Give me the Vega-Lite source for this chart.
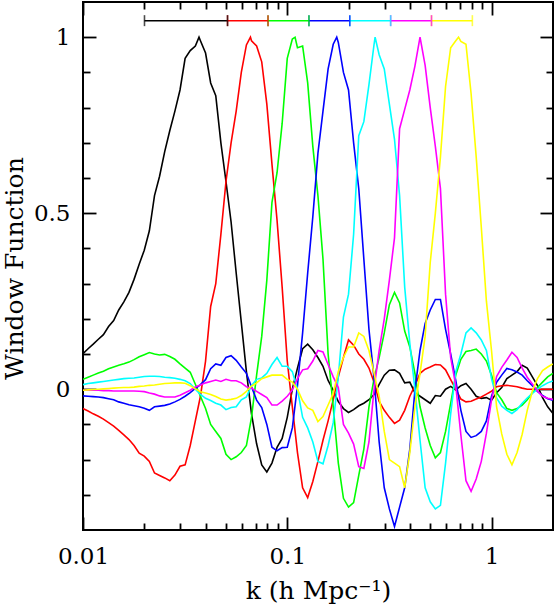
{
"$schema":"https://vega.github.io/schema/vega-lite/v6.json",
"width":470,"height":528,
"autosize":{"type":"none"},
"padding":{"left":83,"top":2,"right":1,"bottom":75},
"background":"white",
"config":{"view":{"stroke":"black","strokeWidth":2},
"axis":{"domain":false,"grid":false,"tickColor":"black","tickWidth":1.8,"labelFont":"DejaVu Serif","labelFontSize":23,"labelColor":"black","titleFont":"DejaVu Serif","titleFontSize":25,"titleFontWeight":"normal","titleColor":"black","labelFlush":false,"labelOverlap":false}},
"datasets":{
"bands":[
{"s":"b1","lo":0.02,"hi":0.051},
{"s":"b2","lo":0.051,"hi":0.0805},
{"s":"b3","lo":0.0805,"hi":0.1277},
{"s":"b4","lo":0.1277,"hi":0.2024},
{"s":"b5","lo":0.2024,"hi":0.3208},
{"s":"b6","lo":0.3208,"hi":0.5084},
{"s":"b7","lo":0.5084,"hi":0.8058}],
"curves":[
{"s":"b1","k":0.01,"w":0.101},{"s":"b1","k":0.01059,"w":0.115},{"s":"b1","k":0.01122,"w":0.128},{"s":"b1","k":0.01189,"w":0.142},{"s":"b1","k":0.01259,"w":0.155},{"s":"b1","k":0.01334,"w":0.178},{"s":"b1","k":0.01413,"w":0.195},{"s":"b1","k":0.01496,"w":0.225},{"s":"b1","k":0.01585,"w":0.248},{"s":"b1","k":0.01679,"w":0.275},
{"s":"b1","k":0.01778,"w":0.312},{"s":"b1","k":0.01884,"w":0.355},{"s":"b1","k":0.01995,"w":0.395},{"s":"b1","k":0.02113,"w":0.45},{"s":"b1","k":0.02239,"w":0.55},{"s":"b1","k":0.02371,"w":0.605},{"s":"b1","k":0.02512,"w":0.675},{"s":"b1","k":0.02661,"w":0.735},{"s":"b1","k":0.02818,"w":0.79},{"s":"b1","k":0.02985,"w":0.85},
{"s":"b1","k":0.03162,"w":0.94},{"s":"b1","k":0.0335,"w":0.962},{"s":"b1","k":0.03548,"w":0.975},{"s":"b1","k":0.03698,"w":1.0},{"s":"b1","k":0.03758,"w":0.99},{"s":"b1","k":0.03981,"w":0.955},{"s":"b1","k":0.04217,"w":0.87},{"s":"b1","k":0.04467,"w":0.834},{"s":"b1","k":0.04732,"w":0.7},{"s":"b1","k":0.05012,"w":0.59},{"s":"b1","k":0.05309,"w":0.475},
{"s":"b1","k":0.05623,"w":0.33},{"s":"b1","k":0.05957,"w":0.19},{"s":"b1","k":0.0631,"w":0.05},{"s":"b1","k":0.06683,"w":-0.07},{"s":"b1","k":0.07079,"w":-0.155},{"s":"b1","k":0.07499,"w":-0.215},{"s":"b1","k":0.07943,"w":-0.235},{"s":"b1","k":0.08414,"w":-0.21},{"s":"b1","k":0.08913,"w":-0.165},{"s":"b1","k":0.09441,"w":-0.14},
{"s":"b1","k":0.1,"w":-0.08},{"s":"b1","k":0.1059,"w":0.0},{"s":"b1","k":0.1122,"w":0.06},{"s":"b1","k":0.1189,"w":0.115},{"s":"b1","k":0.1259,"w":0.128},{"s":"b1","k":0.1334,"w":0.112},{"s":"b1","k":0.1413,"w":0.09},{"s":"b1","k":0.1496,"w":0.065},{"s":"b1","k":0.1585,"w":0.025},{"s":"b1","k":0.1679,"w":-0.003},
{"s":"b1","k":0.1778,"w":-0.035},{"s":"b1","k":0.1884,"w":-0.055},{"s":"b1","k":0.1995,"w":-0.066},{"s":"b1","k":0.2113,"w":-0.058},{"s":"b1","k":0.2239,"w":-0.047},{"s":"b1","k":0.2371,"w":-0.04},{"s":"b1","k":0.2512,"w":-0.03},{"s":"b1","k":0.2661,"w":-0.015},{"s":"b1","k":0.2818,"w":0.014},{"s":"b1","k":0.2985,"w":0.04},
{"s":"b1","k":0.3162,"w":0.054},{"s":"b1","k":0.335,"w":0.055},{"s":"b1","k":0.3548,"w":0.045},{"s":"b1","k":0.3758,"w":0.018},{"s":"b1","k":0.3981,"w":0.02},{"s":"b1","k":0.4217,"w":-0.01},{"s":"b1","k":0.4467,"w":-0.02},{"s":"b1","k":0.4732,"w":-0.03},{"s":"b1","k":0.5012,"w":-0.04},{"s":"b1","k":0.5309,"w":-0.018},
{"s":"b1","k":0.5623,"w":-0.02},{"s":"b1","k":0.5957,"w":0.0},{"s":"b1","k":0.631,"w":0.008},{"s":"b1","k":0.6683,"w":-0.002},{"s":"b1","k":0.7079,"w":0.01},{"s":"b1","k":0.7499,"w":0.016},{"s":"b1","k":0.7943,"w":0.0},{"s":"b1","k":0.8414,"w":-0.02},{"s":"b1","k":0.8913,"w":-0.026},{"s":"b1","k":0.9441,"w":-0.024},
{"s":"b1","k":1,"w":-0.031},{"s":"b1","k":1.059,"w":-0.01},{"s":"b1","k":1.122,"w":0.005},{"s":"b1","k":1.189,"w":0.03},{"s":"b1","k":1.259,"w":0.04},{"s":"b1","k":1.334,"w":0.05},{"s":"b1","k":1.413,"w":0.068},{"s":"b1","k":1.496,"w":0.06},{"s":"b1","k":1.585,"w":0.035},{"s":"b1","k":1.679,"w":0.01},
{"s":"b1","k":1.778,"w":-0.024},{"s":"b1","k":1.884,"w":-0.05},{"s":"b1","k":1.995,"w":-0.068},

{"s":"b2","k":0.01,"w":-0.055},{"s":"b2","k":0.01059,"w":-0.062},{"s":"b2","k":0.01122,"w":-0.07},{"s":"b2","k":0.01189,"w":-0.077},{"s":"b2","k":0.01259,"w":-0.085},{"s":"b2","k":0.01334,"w":-0.095},{"s":"b2","k":0.01413,"w":-0.105},{"s":"b2","k":0.01496,"w":-0.117},{"s":"b2","k":0.01585,"w":-0.13},{"s":"b2","k":0.01679,"w":-0.143},
{"s":"b2","k":0.01778,"w":-0.16},{"s":"b2","k":0.01884,"w":-0.182},{"s":"b2","k":0.01995,"w":-0.19},{"s":"b2","k":0.02113,"w":-0.205},{"s":"b2","k":0.02239,"w":-0.238},{"s":"b2","k":0.02371,"w":-0.245},{"s":"b2","k":0.02512,"w":-0.252},{"s":"b2","k":0.02661,"w":-0.26},{"s":"b2","k":0.02818,"w":-0.244},{"s":"b2","k":0.02985,"w":-0.219},
{"s":"b2","k":0.03162,"w":-0.215},{"s":"b2","k":0.0335,"w":-0.16},{"s":"b2","k":0.03548,"w":-0.09},{"s":"b2","k":0.03758,"w":-0.02},{"s":"b2","k":0.03981,"w":0.08},{"s":"b2","k":0.04217,"w":0.235},{"s":"b2","k":0.04467,"w":0.3},{"s":"b2","k":0.04732,"w":0.44},{"s":"b2","k":0.05012,"w":0.59},{"s":"b2","k":0.05309,"w":0.7},
{"s":"b2","k":0.05623,"w":0.79},{"s":"b2","k":0.05957,"w":0.9},{"s":"b2","k":0.0631,"w":0.978},{"s":"b2","k":0.06604,"w":1.0},{"s":"b2","k":0.06683,"w":0.99},{"s":"b2","k":0.07079,"w":0.975},{"s":"b2","k":0.07499,"w":0.93},{"s":"b2","k":0.07943,"w":0.81},{"s":"b2","k":0.08414,"w":0.64},{"s":"b2","k":0.08913,"w":0.48},{"s":"b2","k":0.09441,"w":0.29},
{"s":"b2","k":0.1,"w":0.08},{"s":"b2","k":0.1059,"w":-0.05},{"s":"b2","k":0.1122,"w":-0.18},{"s":"b2","k":0.1189,"w":-0.28},{"s":"b2","k":0.1259,"w":-0.308},{"s":"b2","k":0.1334,"w":-0.262},{"s":"b2","k":0.1413,"w":-0.205},{"s":"b2","k":0.1496,"w":-0.145},{"s":"b2","k":0.1585,"w":-0.09},{"s":"b2","k":0.1679,"w":-0.03},
{"s":"b2","k":0.1778,"w":0.035},{"s":"b2","k":0.1884,"w":0.09},{"s":"b2","k":0.1995,"w":0.14},{"s":"b2","k":0.2113,"w":0.125},{"s":"b2","k":0.2239,"w":0.1},{"s":"b2","k":0.2371,"w":0.085},{"s":"b2","k":0.2512,"w":0.06},{"s":"b2","k":0.2661,"w":0.02},{"s":"b2","k":0.2818,"w":-0.035},{"s":"b2","k":0.2985,"w":-0.06},
{"s":"b2","k":0.3162,"w":-0.08},{"s":"b2","k":0.335,"w":-0.097},{"s":"b2","k":0.3548,"w":-0.088},{"s":"b2","k":0.3758,"w":-0.06},{"s":"b2","k":0.3981,"w":-0.02},{"s":"b2","k":0.4217,"w":0.01},{"s":"b2","k":0.4467,"w":0.045},{"s":"b2","k":0.4732,"w":0.057},{"s":"b2","k":0.5012,"w":0.063},{"s":"b2","k":0.5309,"w":0.07},
{"s":"b2","k":0.5623,"w":0.069},{"s":"b2","k":0.5957,"w":0.055},{"s":"b2","k":0.631,"w":0.027},{"s":"b2","k":0.6683,"w":0.0},{"s":"b2","k":0.7079,"w":-0.028},{"s":"b2","k":0.7499,"w":-0.036},{"s":"b2","k":0.7943,"w":-0.034},{"s":"b2","k":0.8414,"w":-0.028},{"s":"b2","k":0.8913,"w":-0.022},{"s":"b2","k":0.9441,"w":-0.014},
{"s":"b2","k":1,"w":-0.006},{"s":"b2","k":1.059,"w":0.007},{"s":"b2","k":1.122,"w":0.01},{"s":"b2","k":1.189,"w":0.011},{"s":"b2","k":1.259,"w":0.009},{"s":"b2","k":1.334,"w":0.007},{"s":"b2","k":1.413,"w":0.003},{"s":"b2","k":1.496,"w":0.0},{"s":"b2","k":1.585,"w":0.0},{"s":"b2","k":1.679,"w":0.0},
{"s":"b2","k":1.778,"w":0.0},{"s":"b2","k":1.884,"w":0.0},{"s":"b2","k":1.995,"w":0.0},

{"s":"b3","k":0.01,"w":0.028},{"s":"b3","k":0.01059,"w":0.034},{"s":"b3","k":0.01122,"w":0.04},{"s":"b3","k":0.01189,"w":0.046},{"s":"b3","k":0.01259,"w":0.051},{"s":"b3","k":0.01334,"w":0.058},{"s":"b3","k":0.01413,"w":0.063},{"s":"b3","k":0.01496,"w":0.068},{"s":"b3","k":0.01585,"w":0.072},{"s":"b3","k":0.01679,"w":0.077},
{"s":"b3","k":0.01778,"w":0.084},{"s":"b3","k":0.01884,"w":0.092},{"s":"b3","k":0.01995,"w":0.098},{"s":"b3","k":0.02113,"w":0.104},{"s":"b3","k":0.02239,"w":0.1},{"s":"b3","k":0.02371,"w":0.097},{"s":"b3","k":0.02512,"w":0.099},{"s":"b3","k":0.02661,"w":0.093},{"s":"b3","k":0.02818,"w":0.085},{"s":"b3","k":0.02985,"w":0.072},
{"s":"b3","k":0.03162,"w":0.06},{"s":"b3","k":0.0335,"w":0.048},{"s":"b3","k":0.03548,"w":0.014},{"s":"b3","k":0.03758,"w":-0.02},{"s":"b3","k":0.03981,"w":-0.055},{"s":"b3","k":0.04217,"w":-0.1},{"s":"b3","k":0.04467,"w":-0.12},{"s":"b3","k":0.04732,"w":-0.14},{"s":"b3","k":0.05012,"w":-0.185},{"s":"b3","k":0.05309,"w":-0.2},
{"s":"b3","k":0.05623,"w":-0.192},{"s":"b3","k":0.05957,"w":-0.18},{"s":"b3","k":0.0631,"w":-0.16},{"s":"b3","k":0.06683,"w":-0.08},{"s":"b3","k":0.07079,"w":0.04},{"s":"b3","k":0.07499,"w":0.15},{"s":"b3","k":0.07943,"w":0.31},{"s":"b3","k":0.08414,"w":0.53},{"s":"b3","k":0.08913,"w":0.615},{"s":"b3","k":0.09441,"w":0.755},
{"s":"b3","k":0.1,"w":0.94},{"s":"b3","k":0.1059,"w":0.995},{"s":"b3","k":0.1092,"w":1.0},{"s":"b3","k":0.1122,"w":0.97},{"s":"b3","k":0.1189,"w":0.975},{"s":"b3","k":0.1259,"w":0.87},{"s":"b3","k":0.1334,"w":0.69},{"s":"b3","k":0.1413,"w":0.55},{"s":"b3","k":0.1496,"w":0.37},{"s":"b3","k":0.1585,"w":0.1},{"s":"b3","k":0.1679,"w":-0.05},
{"s":"b3","k":0.1778,"w":-0.21},{"s":"b3","k":0.1884,"w":-0.31},{"s":"b3","k":0.1995,"w":-0.335},{"s":"b3","k":0.2113,"w":-0.322},{"s":"b3","k":0.2239,"w":-0.245},{"s":"b3","k":0.2371,"w":-0.17},{"s":"b3","k":0.2512,"w":-0.05},{"s":"b3","k":0.2661,"w":0.03},{"s":"b3","k":0.2818,"w":0.09},{"s":"b3","k":0.2985,"w":0.16},
{"s":"b3","k":0.3162,"w":0.24},{"s":"b3","k":0.335,"w":0.275},{"s":"b3","k":0.3548,"w":0.245},{"s":"b3","k":0.3758,"w":0.165},{"s":"b3","k":0.3981,"w":0.12},{"s":"b3","k":0.4217,"w":0.045},{"s":"b3","k":0.4467,"w":-0.05},{"s":"b3","k":0.4732,"w":-0.11},{"s":"b3","k":0.5012,"w":-0.16},{"s":"b3","k":0.5309,"w":-0.195},
{"s":"b3","k":0.5623,"w":-0.18},{"s":"b3","k":0.5957,"w":-0.12},{"s":"b3","k":0.631,"w":-0.04},{"s":"b3","k":0.6683,"w":0.04},{"s":"b3","k":0.7079,"w":0.085},{"s":"b3","k":0.7499,"w":0.107},{"s":"b3","k":0.7943,"w":0.11},{"s":"b3","k":0.8414,"w":0.114},{"s":"b3","k":0.8913,"w":0.1},{"s":"b3","k":0.9441,"w":0.08},
{"s":"b3","k":1,"w":0.04},{"s":"b3","k":1.059,"w":-0.01},{"s":"b3","k":1.122,"w":-0.03},{"s":"b3","k":1.189,"w":-0.055},{"s":"b3","k":1.259,"w":-0.06},{"s":"b3","k":1.334,"w":-0.055},{"s":"b3","k":1.413,"w":-0.045},{"s":"b3","k":1.496,"w":-0.03},{"s":"b3","k":1.585,"w":-0.01},{"s":"b3","k":1.679,"w":0.005},
{"s":"b3","k":1.778,"w":0.02},{"s":"b3","k":1.884,"w":0.035},{"s":"b3","k":1.995,"w":0.045},

{"s":"b4","k":0.01,"w":-0.019},{"s":"b4","k":0.01059,"w":-0.02},{"s":"b4","k":0.01122,"w":-0.021},{"s":"b4","k":0.01189,"w":-0.022},{"s":"b4","k":0.01259,"w":-0.024},{"s":"b4","k":0.01334,"w":-0.027},{"s":"b4","k":0.01413,"w":-0.03},{"s":"b4","k":0.01496,"w":-0.036},{"s":"b4","k":0.01585,"w":-0.04},{"s":"b4","k":0.01679,"w":-0.044},
{"s":"b4","k":0.01778,"w":-0.047},{"s":"b4","k":0.01884,"w":-0.05},{"s":"b4","k":0.01995,"w":-0.054},{"s":"b4","k":0.02113,"w":-0.06},{"s":"b4","k":0.02239,"w":-0.05},{"s":"b4","k":0.02371,"w":-0.048},{"s":"b4","k":0.02512,"w":-0.046},{"s":"b4","k":0.02661,"w":-0.042},{"s":"b4","k":0.02818,"w":-0.036},{"s":"b4","k":0.02985,"w":-0.029},
{"s":"b4","k":0.03162,"w":-0.02},{"s":"b4","k":0.0335,"w":-0.01},{"s":"b4","k":0.03548,"w":0.002},{"s":"b4","k":0.03758,"w":0.013},{"s":"b4","k":0.03981,"w":0.027},{"s":"b4","k":0.04217,"w":0.058},{"s":"b4","k":0.04467,"w":0.072},{"s":"b4","k":0.04732,"w":0.068},{"s":"b4","k":0.05012,"w":0.09},{"s":"b4","k":0.05309,"w":0.095},
{"s":"b4","k":0.05623,"w":0.082},{"s":"b4","k":0.05957,"w":0.063},{"s":"b4","k":0.0631,"w":0.045},{"s":"b4","k":0.06683,"w":0.007},{"s":"b4","k":0.07079,"w":-0.031},{"s":"b4","k":0.07499,"w":-0.052},{"s":"b4","k":0.07943,"w":-0.1},{"s":"b4","k":0.08414,"w":-0.165},{"s":"b4","k":0.08913,"w":-0.175},{"s":"b4","k":0.09441,"w":-0.166},
{"s":"b4","k":0.1,"w":-0.165},{"s":"b4","k":0.1059,"w":-0.11},{"s":"b4","k":0.1122,"w":0.01},{"s":"b4","k":0.1189,"w":0.16},{"s":"b4","k":0.1259,"w":0.33},{"s":"b4","k":0.1334,"w":0.49},{"s":"b4","k":0.1413,"w":0.67},{"s":"b4","k":0.1496,"w":0.79},{"s":"b4","k":0.1585,"w":0.91},{"s":"b4","k":0.1679,"w":0.98},
{"s":"b4","k":0.1747,"w":1.0},{"s":"b4","k":0.1778,"w":0.985},{"s":"b4","k":0.1884,"w":0.9},{"s":"b4","k":0.1995,"w":0.85},{"s":"b4","k":0.2113,"w":0.7},{"s":"b4","k":0.2239,"w":0.57},{"s":"b4","k":0.2371,"w":0.37},{"s":"b4","k":0.2512,"w":0.17},{"s":"b4","k":0.2661,"w":0.03},{"s":"b4","k":0.2818,"w":-0.15},{"s":"b4","k":0.2985,"w":-0.28},
{"s":"b4","k":0.3162,"w":-0.34},{"s":"b4","k":0.335,"w":-0.39},{"s":"b4","k":0.3548,"w":-0.335},{"s":"b4","k":0.3758,"w":-0.28},{"s":"b4","k":0.3981,"w":-0.17},{"s":"b4","k":0.4217,"w":-0.003},{"s":"b4","k":0.4467,"w":0.11},{"s":"b4","k":0.4732,"w":0.187},{"s":"b4","k":0.5012,"w":0.225},{"s":"b4","k":0.5309,"w":0.255},
{"s":"b4","k":0.5623,"w":0.255},{"s":"b4","k":0.5957,"w":0.17},{"s":"b4","k":0.631,"w":0.1},{"s":"b4","k":0.6683,"w":0.025},{"s":"b4","k":0.7079,"w":-0.06},{"s":"b4","k":0.7499,"w":-0.12},{"s":"b4","k":0.7943,"w":-0.137},{"s":"b4","k":0.8414,"w":-0.132},{"s":"b4","k":0.8913,"w":-0.12},{"s":"b4","k":0.9441,"w":-0.09},
{"s":"b4","k":1,"w":-0.02},{"s":"b4","k":1.059,"w":0.02},{"s":"b4","k":1.122,"w":0.04},{"s":"b4","k":1.189,"w":0.059},{"s":"b4","k":1.259,"w":0.055},{"s":"b4","k":1.334,"w":0.049},{"s":"b4","k":1.413,"w":0.04},{"s":"b4","k":1.496,"w":0.024},{"s":"b4","k":1.585,"w":0.01},{"s":"b4","k":1.679,"w":-0.006},
{"s":"b4","k":1.778,"w":-0.018},{"s":"b4","k":1.884,"w":-0.027},{"s":"b4","k":1.995,"w":-0.031},

{"s":"b5","k":0.01,"w":0.013},{"s":"b5","k":0.01059,"w":0.016},{"s":"b5","k":0.01122,"w":0.018},{"s":"b5","k":0.01189,"w":0.02},{"s":"b5","k":0.01259,"w":0.022},{"s":"b5","k":0.01334,"w":0.024},{"s":"b5","k":0.01413,"w":0.026},{"s":"b5","k":0.01496,"w":0.028},{"s":"b5","k":0.01585,"w":0.03},{"s":"b5","k":0.01679,"w":0.031},
{"s":"b5","k":0.01778,"w":0.032},{"s":"b5","k":0.01884,"w":0.034},{"s":"b5","k":0.01995,"w":0.036},{"s":"b5","k":0.02113,"w":0.037},{"s":"b5","k":0.02239,"w":0.037},{"s":"b5","k":0.02371,"w":0.036},{"s":"b5","k":0.02512,"w":0.034},{"s":"b5","k":0.02661,"w":0.033},{"s":"b5","k":0.02818,"w":0.031},{"s":"b5","k":0.02985,"w":0.028},
{"s":"b5","k":0.03162,"w":0.024},{"s":"b5","k":0.0335,"w":0.016},{"s":"b5","k":0.03548,"w":0.0},{"s":"b5","k":0.03758,"w":-0.015},{"s":"b5","k":0.03981,"w":-0.026},{"s":"b5","k":0.04217,"w":-0.032},{"s":"b5","k":0.04467,"w":-0.04},{"s":"b5","k":0.04732,"w":-0.045},{"s":"b5","k":0.05012,"w":-0.058},{"s":"b5","k":0.05309,"w":-0.052},
{"s":"b5","k":0.05623,"w":-0.05},{"s":"b5","k":0.05957,"w":-0.03},{"s":"b5","k":0.0631,"w":-0.022},{"s":"b5","k":0.06683,"w":0.01},{"s":"b5","k":0.07079,"w":0.028},{"s":"b5","k":0.07499,"w":0.032},{"s":"b5","k":0.07943,"w":0.045},{"s":"b5","k":0.08414,"w":0.07},{"s":"b5","k":0.08913,"w":0.09},{"s":"b5","k":0.09441,"w":0.065},
{"s":"b5","k":0.1,"w":0.065},{"s":"b5","k":0.1059,"w":0.05},{"s":"b5","k":0.1122,"w":0.0},{"s":"b5","k":0.1189,"w":-0.08},{"s":"b5","k":0.1259,"w":-0.11},{"s":"b5","k":0.1334,"w":-0.15},{"s":"b5","k":0.1413,"w":-0.205},{"s":"b5","k":0.1496,"w":-0.212},{"s":"b5","k":0.1585,"w":-0.16},{"s":"b5","k":0.1679,"w":-0.095},
{"s":"b5","k":0.1778,"w":0.035},{"s":"b5","k":0.1884,"w":0.205},{"s":"b5","k":0.1995,"w":0.27},{"s":"b5","k":0.2113,"w":0.44},{"s":"b5","k":0.2239,"w":0.72},{"s":"b5","k":0.2371,"w":0.76},{"s":"b5","k":0.2512,"w":0.865},{"s":"b5","k":0.2661,"w":0.98},{"s":"b5","k":0.2692,"w":1.0},{"s":"b5","k":0.2818,"w":0.95},{"s":"b5","k":0.2985,"w":0.91},
{"s":"b5","k":0.3162,"w":0.81},{"s":"b5","k":0.335,"w":0.71},{"s":"b5","k":0.3548,"w":0.55},{"s":"b5","k":0.3758,"w":0.29},{"s":"b5","k":0.3981,"w":0.13},{"s":"b5","k":0.4217,"w":0.0},{"s":"b5","k":0.4467,"w":-0.145},{"s":"b5","k":0.4732,"w":-0.28},{"s":"b5","k":0.5012,"w":-0.32},{"s":"b5","k":0.5309,"w":-0.34},
{"s":"b5","k":0.5623,"w":-0.33},{"s":"b5","k":0.5957,"w":-0.21},{"s":"b5","k":0.631,"w":-0.07},{"s":"b5","k":0.6683,"w":0.05},{"s":"b5","k":0.7079,"w":0.1},{"s":"b5","k":0.7499,"w":0.16},{"s":"b5","k":0.7943,"w":0.174},{"s":"b5","k":0.8414,"w":0.16},{"s":"b5","k":0.8913,"w":0.14},{"s":"b5","k":0.9441,"w":0.11},
{"s":"b5","k":1,"w":0.03},{"s":"b5","k":1.059,"w":-0.025},{"s":"b5","k":1.122,"w":-0.048},{"s":"b5","k":1.189,"w":-0.06},{"s":"b5","k":1.259,"w":-0.069},{"s":"b5","k":1.334,"w":-0.058},{"s":"b5","k":1.413,"w":-0.04},{"s":"b5","k":1.496,"w":-0.025},{"s":"b5","k":1.585,"w":-0.012},{"s":"b5","k":1.679,"w":0.0},
{"s":"b5","k":1.778,"w":0.01},{"s":"b5","k":1.884,"w":0.018},{"s":"b5","k":1.995,"w":0.023},

{"s":"b6","k":0.01,"w":-0.003},{"s":"b6","k":0.01059,"w":-0.003},{"s":"b6","k":0.01122,"w":-0.003},{"s":"b6","k":0.01189,"w":-0.003},{"s":"b6","k":0.01259,"w":-0.004},{"s":"b6","k":0.01334,"w":-0.004},{"s":"b6","k":0.01413,"w":-0.005},{"s":"b6","k":0.01496,"w":-0.005},{"s":"b6","k":0.01585,"w":-0.005},{"s":"b6","k":0.01679,"w":-0.005},
{"s":"b6","k":0.01778,"w":-0.005},{"s":"b6","k":0.01884,"w":-0.006},{"s":"b6","k":0.01995,"w":-0.007},{"s":"b6","k":0.02113,"w":-0.011},{"s":"b6","k":0.02239,"w":-0.014},{"s":"b6","k":0.02371,"w":-0.019},{"s":"b6","k":0.02512,"w":-0.022},{"s":"b6","k":0.02661,"w":-0.022},{"s":"b6","k":0.02818,"w":-0.022},{"s":"b6","k":0.02985,"w":-0.017},
{"s":"b6","k":0.03162,"w":-0.01},{"s":"b6","k":0.0335,"w":-0.003},{"s":"b6","k":0.03548,"w":0.006},{"s":"b6","k":0.03758,"w":0.012},{"s":"b6","k":0.03981,"w":0.018},{"s":"b6","k":0.04217,"w":0.022},{"s":"b6","k":0.04467,"w":0.026},{"s":"b6","k":0.04732,"w":0.022},{"s":"b6","k":0.05012,"w":0.028},{"s":"b6","k":0.05309,"w":0.024},
{"s":"b6","k":0.05623,"w":0.024},{"s":"b6","k":0.05957,"w":0.018},{"s":"b6","k":0.0631,"w":0.007},{"s":"b6","k":0.06683,"w":0.003},{"s":"b6","k":0.07079,"w":-0.006},{"s":"b6","k":0.07499,"w":-0.015},{"s":"b6","k":0.07943,"w":-0.024},{"s":"b6","k":0.08414,"w":-0.045},{"s":"b6","k":0.08913,"w":-0.045},{"s":"b6","k":0.09441,"w":-0.034},
{"s":"b6","k":0.1,"w":-0.02},{"s":"b6","k":0.1059,"w":-0.002},{"s":"b6","k":0.1122,"w":0.03},{"s":"b6","k":0.1189,"w":0.055},{"s":"b6","k":0.1259,"w":0.058},{"s":"b6","k":0.1334,"w":0.08},{"s":"b6","k":0.1413,"w":0.11},{"s":"b6","k":0.1496,"w":0.106},{"s":"b6","k":0.1585,"w":0.07},{"s":"b6","k":0.1679,"w":0.035},
{"s":"b6","k":0.1778,"w":0.005},{"s":"b6","k":0.1884,"w":-0.1},{"s":"b6","k":0.1995,"w":-0.125},{"s":"b6","k":0.2113,"w":-0.156},{"s":"b6","k":0.2239,"w":-0.22},{"s":"b6","k":0.2371,"w":-0.225},{"s":"b6","k":0.2512,"w":-0.15},{"s":"b6","k":0.2661,"w":0.0},{"s":"b6","k":0.2818,"w":0.11},{"s":"b6","k":0.2985,"w":0.2},
{"s":"b6","k":0.3162,"w":0.31},{"s":"b6","k":0.335,"w":0.43},{"s":"b6","k":0.3548,"w":0.74},{"s":"b6","k":0.3758,"w":0.795},{"s":"b6","k":0.3981,"w":0.85},{"s":"b6","k":0.4217,"w":0.918},{"s":"b6","k":0.4467,"w":1.0},{"s":"b6","k":0.4732,"w":0.92},{"s":"b6","k":0.5012,"w":0.8},{"s":"b6","k":0.5309,"w":0.69},
{"s":"b6","k":0.5623,"w":0.57},{"s":"b6","k":0.5957,"w":0.27},{"s":"b6","k":0.631,"w":0.09},{"s":"b6","k":0.6683,"w":0.01},{"s":"b6","k":0.7079,"w":-0.13},{"s":"b6","k":0.7499,"w":-0.26},{"s":"b6","k":0.7943,"w":-0.29},{"s":"b6","k":0.8414,"w":-0.255},{"s":"b6","k":0.8913,"w":-0.205},{"s":"b6","k":0.9441,"w":-0.125},
{"s":"b6","k":1,"w":-0.031},{"s":"b6","k":1.059,"w":0.036},{"s":"b6","k":1.122,"w":0.062},{"s":"b6","k":1.189,"w":0.083},{"s":"b6","k":1.259,"w":0.105},{"s":"b6","k":1.334,"w":0.09},{"s":"b6","k":1.413,"w":0.06},{"s":"b6","k":1.496,"w":0.034},{"s":"b6","k":1.585,"w":0.015},{"s":"b6","k":1.679,"w":-0.005},
{"s":"b6","k":1.778,"w":-0.02},{"s":"b6","k":1.884,"w":-0.026},{"s":"b6","k":1.995,"w":-0.029},

{"s":"b7","k":0.01,"w":-0.003},{"s":"b7","k":0.01059,"w":-0.002},{"s":"b7","k":0.01122,"w":-0.001},{"s":"b7","k":0.01189,"w":0.0},{"s":"b7","k":0.01259,"w":0.001},{"s":"b7","k":0.01334,"w":0.002},{"s":"b7","k":0.01413,"w":0.003},{"s":"b7","k":0.01496,"w":0.004},{"s":"b7","k":0.01585,"w":0.005},{"s":"b7","k":0.01679,"w":0.005},
{"s":"b7","k":0.01778,"w":0.006},{"s":"b7","k":0.01884,"w":0.008},{"s":"b7","k":0.01995,"w":0.009},{"s":"b7","k":0.02113,"w":0.011},{"s":"b7","k":0.02239,"w":0.012},{"s":"b7","k":0.02371,"w":0.014},{"s":"b7","k":0.02512,"w":0.016},{"s":"b7","k":0.02661,"w":0.017},{"s":"b7","k":0.02818,"w":0.018},{"s":"b7","k":0.02985,"w":0.018},
{"s":"b7","k":0.03162,"w":0.017},{"s":"b7","k":0.0335,"w":0.01},{"s":"b7","k":0.03548,"w":0.001},{"s":"b7","k":0.03758,"w":-0.007},{"s":"b7","k":0.03981,"w":-0.011},{"s":"b7","k":0.04217,"w":-0.015},{"s":"b7","k":0.04467,"w":-0.021},{"s":"b7","k":0.04732,"w":-0.028},{"s":"b7","k":0.05012,"w":-0.031},{"s":"b7","k":0.05309,"w":-0.029},
{"s":"b7","k":0.05623,"w":-0.026},{"s":"b7","k":0.05957,"w":-0.018},{"s":"b7","k":0.0631,"w":-0.006},{"s":"b7","k":0.06683,"w":0.009},{"s":"b7","k":0.07079,"w":0.018},{"s":"b7","k":0.07499,"w":0.03},{"s":"b7","k":0.07943,"w":0.035},{"s":"b7","k":0.08414,"w":0.04},{"s":"b7","k":0.08913,"w":0.04},{"s":"b7","k":0.09441,"w":0.04},
{"s":"b7","k":0.1,"w":0.028},{"s":"b7","k":0.1059,"w":0.02},{"s":"b7","k":0.1122,"w":0.0},{"s":"b7","k":0.1189,"w":-0.033},{"s":"b7","k":0.1259,"w":-0.053},{"s":"b7","k":0.1334,"w":-0.06},{"s":"b7","k":0.1413,"w":-0.092},{"s":"b7","k":0.1496,"w":-0.078},{"s":"b7","k":0.1585,"w":-0.045},{"s":"b7","k":0.1679,"w":-0.012},
{"s":"b7","k":0.1778,"w":0.05},{"s":"b7","k":0.1884,"w":0.09},{"s":"b7","k":0.1995,"w":0.12},{"s":"b7","k":0.2113,"w":0.12},{"s":"b7","k":0.2239,"w":0.16},{"s":"b7","k":0.2371,"w":0.15},{"s":"b7","k":0.2512,"w":0.11},{"s":"b7","k":0.2661,"w":0.045},{"s":"b7","k":0.2818,"w":-0.02},{"s":"b7","k":0.2985,"w":-0.12},
{"s":"b7","k":0.3162,"w":-0.2},{"s":"b7","k":0.335,"w":-0.21},{"s":"b7","k":0.3548,"w":-0.22},{"s":"b7","k":0.3758,"w":-0.28},{"s":"b7","k":0.3981,"w":-0.18},{"s":"b7","k":0.4217,"w":-0.05},{"s":"b7","k":0.4467,"w":0.045},{"s":"b7","k":0.4732,"w":0.15},{"s":"b7","k":0.5012,"w":0.36},{"s":"b7","k":0.5309,"w":0.5},
{"s":"b7","k":0.5623,"w":0.66},{"s":"b7","k":0.5957,"w":0.86},{"s":"b7","k":0.631,"w":0.97},{"s":"b7","k":0.6683,"w":0.99},{"s":"b7","k":0.6895,"w":1.0},{"s":"b7","k":0.7079,"w":0.988},{"s":"b7","k":0.7499,"w":0.98},{"s":"b7","k":0.7943,"w":0.84},{"s":"b7","k":0.8414,"w":0.66},{"s":"b7","k":0.8913,"w":0.46},{"s":"b7","k":0.9441,"w":0.25},
{"s":"b7","k":1,"w":0.11},{"s":"b7","k":1.059,"w":-0.05},{"s":"b7","k":1.122,"w":-0.127},{"s":"b7","k":1.189,"w":-0.185},{"s":"b7","k":1.259,"w":-0.215},{"s":"b7","k":1.334,"w":-0.18},{"s":"b7","k":1.413,"w":-0.128},{"s":"b7","k":1.496,"w":-0.06},{"s":"b7","k":1.585,"w":-0.005},{"s":"b7","k":1.679,"w":0.03},
{"s":"b7","k":1.778,"w":0.053},{"s":"b7","k":1.884,"w":0.063},{"s":"b7","k":1.995,"w":0.072}
]},
"layer":[
{"data":{"name":"curves"},
"mark":{"type":"line","strokeWidth":1.6,"clip":true},
"encoding":{
"x":{"field":"k","type":"quantitative","scale":{"type":"log","domain":[0.01,2],"nice":false},
"axis":{"orient":"bottom","values":[0.01,0.02,0.03,0.04,0.05,0.06,0.07,0.08,0.09,0.1,0.2,0.3,0.4,0.5,0.6,0.7,0.8,0.9,1,2],
"labelExpr":"datum.value == 0.01 ? '0.01' : datum.value == 0.1 ? '0.1' : datum.value == 1 ? '1' : ''",
"tickSize":{"condition":{"test":"datum.value == 0.01 || datum.value == 0.1 || datum.value == 1","value":-13},"value":-7},
"labelPadding":28,"title":"k  (h  Mpc⁻¹)","titleX":235,"titleY":68,"titleAlign":"center","titleBaseline":"alphabetic","titleAngle":0}},
"y":{"field":"w","type":"quantitative","scale":{"domain":[-0.4,1.1],"nice":false,"zero":false},
"axis":{"orient":"left","values":[-0.3,-0.2,-0.1,0,0.1,0.2,0.3,0.4,0.5,0.6,0.7,0.8,0.9,1],
"labelExpr":"datum.value == 0 ? '0' : datum.value == 0.5 ? '0.5' : datum.value == 1 ? '1' : ''",
"tickSize":{"condition":{"test":"datum.value == 0 || datum.value == 0.5 || datum.value == 1","value":-13},"value":-7},
"labelPadding":26,"labelBaseline":"middle","title":"Window Function","titleX":-61,"titleY":266,"titleAngle":-90,"titleAlign":"center","titleBaseline":"alphabetic"}},
"color":{"field":"s","type":"nominal","legend":null,
"scale":{"domain":["b1","b2","b3","b4","b5","b6","b7"],"range":["#000000","#ff0000","#00ff00","#0000ff","#00ffff","#ff00ff","#ffff00"]}}
}},
{"data":{"name":"bands"},
"mark":{"type":"rule","strokeWidth":1.5},
"encoding":{
"x":{"field":"lo","type":"quantitative",
"axis":{"orient":"top","values":[0.01,0.02,0.03,0.04,0.05,0.06,0.07,0.08,0.09,0.1,0.2,0.3,0.4,0.5,0.6,0.7,0.8,0.9,1,2],"labels":false,"title":null,
"tickSize":{"condition":{"test":"datum.value == 0.01 || datum.value == 0.1 || datum.value == 1","value":-13},"value":-7}}},
"x2":{"field":"hi"},
"y":{"datum":1.047,"type":"quantitative",
"axis":{"orient":"right","values":[-0.3,-0.2,-0.1,0,0.1,0.2,0.3,0.4,0.5,0.6,0.7,0.8,0.9,1],"labels":false,"title":null,
"tickSize":{"condition":{"test":"datum.value == 0 || datum.value == 0.5 || datum.value == 1","value":-13},"value":-7}}},
"color":{"field":"s","type":"nominal","legend":null}
}},
{"data":{"name":"bands"},
"mark":{"type":"tick","orient":"vertical","size":11,"thickness":1.6},
"encoding":{
"x":{"field":"lo","type":"quantitative","axis":null},
"y":{"datum":1.047,"type":"quantitative","axis":null},
"color":{"field":"s","type":"nominal","legend":null}
}},
{"data":{"name":"bands"},
"mark":{"type":"tick","orient":"vertical","size":11,"thickness":1.6},
"encoding":{
"x":{"field":"hi","type":"quantitative","axis":null},
"y":{"datum":1.047,"type":"quantitative","axis":null},
"color":{"field":"s","type":"nominal","legend":null}
}}
],
"resolve":{"axis":{"x":"independent","y":"independent"}}
}
